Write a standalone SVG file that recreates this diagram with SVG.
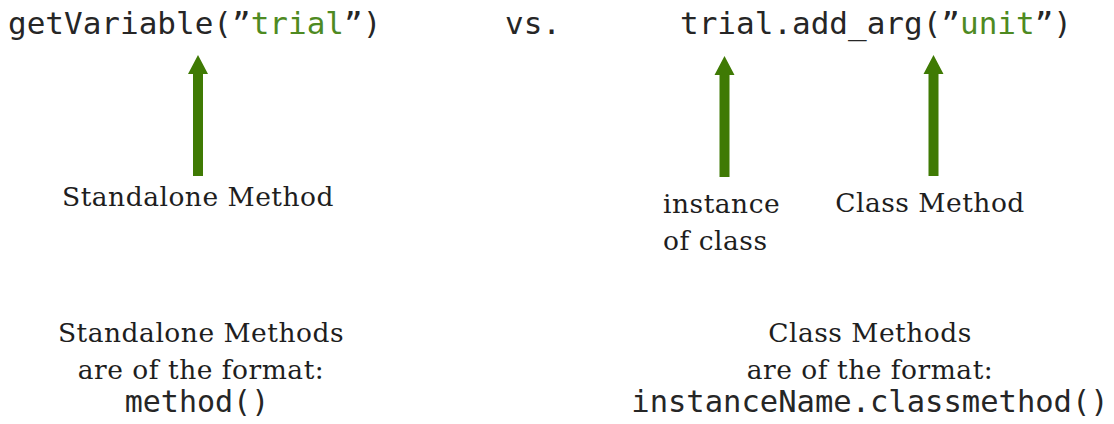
<svg xmlns="http://www.w3.org/2000/svg" width="1114" height="424" viewBox="0 0 1114 424">
  <style>
    .code { font-family: "DejaVu Sans Mono", "Liberation Mono", monospace; font-size: 31px; fill: #262626; }
    .str { fill: #4e8a22; }
    .lbl { font-family: "DejaVu Serif", "Liberation Serif", serif; font-size: 26.5px; letter-spacing: 0.5px; fill: #1e1e1e; }
    .arrow { fill: #3f7a04; }
  </style>
  <defs>
    <path id="arr" class="arrow" d="M -5 0 L -5 -102 L -10 -102 L 0 -121 L 10 -102 L 5 -102 L 5 0 Z"/>
  </defs>
  <rect width="1114" height="424" fill="#ffffff"/>

  <g id="code-standalone">
    <text class="code" x="8" y="34">getVariable(”<tspan class="str">trial</tspan>”)</text>
  </g>
  <g id="vs">
    <text class="code" x="505" y="34">vs.</text>
  </g>
  <g id="code-class">
    <text class="code" x="680" y="34">trial.add_arg(”<tspan class="str">unit</tspan>”)</text>
  </g>

  <g id="connectors">
    <use href="#arr" x="198" y="176"/>
    <use href="#arr" x="724.5" y="177"/>
    <use href="#arr" x="933.5" y="176"/>
  </g>

  <g id="label-standalone">
    <text class="lbl" x="198" y="206" text-anchor="middle">Standalone Method</text>
  </g>
  <g id="label-instance">
    <text class="lbl" x="663" y="213">instance</text>
    <text class="lbl" x="663" y="250">of class</text>
  </g>
  <g id="label-class">
    <text class="lbl" x="930" y="212" text-anchor="middle">Class Method</text>
  </g>

  <g id="note-standalone">
    <text class="lbl" x="201" y="342" text-anchor="middle">Standalone Methods</text>
    <text class="lbl" x="201" y="379" text-anchor="middle">are of the format:</text>
    <text class="code" x="197" y="412" text-anchor="middle" style="font-size:30px">method()</text>
  </g>
  <g id="note-class">
    <text class="lbl" x="870" y="342" text-anchor="middle">Class Methods</text>
    <text class="lbl" x="870" y="379" text-anchor="middle">are of the format:</text>
    <text class="code" x="870" y="412" text-anchor="middle" style="font-size:30.5px">instanceName.classmethod()</text>
  </g>
</svg>
